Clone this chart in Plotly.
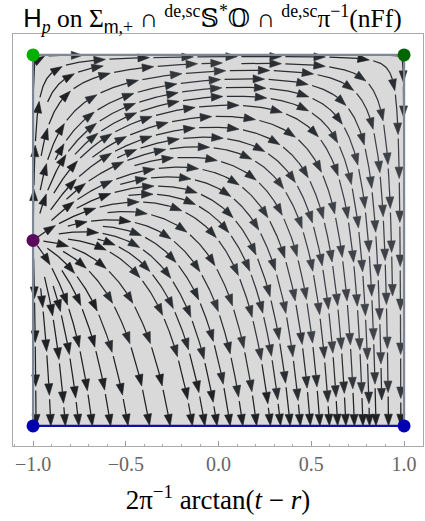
import numpy as np
import plotly.graph_objects as go

# ---------------- data ----------------
X_TICK_VALS = [-1.0, -0.5, 0.0, 0.5, 1.0]
X_TICK_TEXT = ["−1.0", "−0.5", "0.0", "0.5", "1.0"]
X_MINOR_STEP = 0.1
BOX_X = [-1.0, 1.0]
BOX_Y = [-1.0, 1.0]
POINT_X = [-1.0, 1.0, -1.0, -1.0, 1.0]
POINT_Y = [1.0, 1.0, 0.0, -1.0, -1.0]
POINT_COLORS = ["#00b000", "#006600", "#5a0a5a", "#0000b0", "#0000b0"]
EDGE_X = [-1.0, -1.0, 1.0, 1.0]      # left, top, right edges
EDGE_Y = [-1.0, 1.0, 1.0, -1.0]
BOTTOM_X = [-1.0, 1.0]
BOTTOM_Y = [-1.0, -1.0]
FIELD_C = 0.65
SEP = 0.068

NB_ = "\u00a0"
SANS = "font-family:Liberation Sans"
SERIF_STYLE = "font-family:Liberation Serif"
TITLE = (f'<span style="{SANS}">H</span><sub><i>p</i></sub>'
         f'<span style="{SERIF_STYLE}"> on Σ</span>'
         f'<sub><span style="{SANS}">m</span>,+</sub>'
         f'<span style="{SERIF_STYLE}"> ∩ </span>'
         '<sup>de,sc</sup>𝕊<sup>*</sup>𝕆 ∩ <sup>de,sc</sup>π<sup>−1</sup>(nFf)')
XLABEL = ('2π<sup>−1</sup>' + NB_ + 'arctan(<i>t</i>' + NB_ + '−' + NB_ + '<i>r</i>)')


def field(x, y):
    u = 0.5 * (1 - x * x) * (1 + y)
    v = (1 - y * y) * (y - FIELD_C * (1 + x) ** 2)
    return u, v


def unit_dir(x, y, sgn):
    u, v = field(x, y)
    n = (u * u + v * v) ** 0.5
    if n < 1e-8:
        return None
    return sgn * u / n, sgn * v / n


# ------------- evenly spaced streamlines -------------
CELL = SEP
grid = {}


def key(x, y):
    return (int((x + 1.5) // CELL), int((y + 1.5) // CELL))


def add_pt(x, y, lid):
    grid.setdefault(key(x, y), []).append((x, y, lid))


def near(x, y, dist, lid):
    i, j = key(x, y)
    d2 = dist * dist
    for di in (-1, 0, 1):
        for dj in (-1, 0, 1):
            for (px, py, pl) in grid.get((i + di, j + dj), ()):
                if pl != lid and (px - x) ** 2 + (py - y) ** 2 < d2:
                    return True
    return False


H = 0.004
XMIN, XMAX = BOX_X
YMIN, YMAX = BOX_Y
DTEST = 0.5 * SEP


def inside(x, y):
    return XMIN <= x <= XMAX and YMIN <= y <= YMAX


def trace(x0, y0, sgn, lid):
    pts = []
    x, y = x0, y0
    for _ in range(4000):
        d1 = unit_dir(x, y, sgn)
        if d1 is None:
            break
        d2 = unit_dir(x + 0.5 * H * d1[0], y + 0.5 * H * d1[1], sgn)
        if d2 is None or d1[0] * d2[0] + d1[1] * d2[1] < 0.5:
            break
        xn, yn = x + H * d2[0], y + H * d2[1]
        if not inside(xn, yn):
            t = 1.0
            if xn < XMIN: t = min(t, (XMIN - x) / (xn - x))
            if xn > XMAX: t = min(t, (XMAX - x) / (xn - x))
            if yn < YMIN: t = min(t, (YMIN - y) / (yn - y))
            if yn > YMAX: t = min(t, (YMAX - y) / (yn - y))
            pts.append((x + t * (xn - x), y + t * (yn - y)))
            break
        if near(xn, yn, DTEST, lid):
            break
        pts.append((xn, yn))
        x, y = xn, yn
    return pts


lines = []


def try_seed(sx, sy, queue):
    if not inside(sx, sy) or near(sx, sy, SEP * 0.98, -1):
        return
    lid = len(lines)
    fwd = trace(sx, sy, 1, lid)
    bwd = trace(sx, sy, -1, lid)
    line = bwd[::-1] + [(sx, sy)] + fwd
    arr = np.array(line)
    if len(arr) < 2:
        return
    length = np.hypot(np.diff(arr[:, 0]), np.diff(arr[:, 1])).sum()
    if length < 0.08:
        return
    for (x, y) in line:
        add_pt(x, y, lid)
    lines.append(arr)
    for k in range(0, len(line), 4):
        x, y = line[k]
        d = unit_dir(x, y, 1)
        if d is None:
            continue
        nx, ny = -d[1], d[0]
        queue.append((x + SEP * nx, y + SEP * ny))
        queue.append((x - SEP * nx, y - SEP * ny))


def run_queue(queue):
    while queue:
        sx, sy = queue.pop(0)
        try_seed(sx, sy, queue)


q = [(0.0, 0.0)]
run_queue(q)
for gx in np.arange(-0.98, 0.99, SEP / 2):
    for gy in np.arange(-0.98, 0.99, SEP / 2):
        q = [(float(gx), float(gy))]
        run_queue(q)

# ------------- segment streamlines and build arrowheads -------------
S = 185.5            # px per data unit
SEG = 40 / S
GAP = 4 / S
AL = 11.5 / S
AW = 4.0 / S
NB = 4
GOLD = 0.6180339887
shades = ["#1f2124", "#2a2d31", "#34373c", "#3e4147"]
seg_x = [[] for _ in range(NB)]
seg_y = [[] for _ in range(NB)]
arr_x = [[] for _ in range(NB)]
arr_y = [[] for _ in range(NB)]


def point_at(arr, s, sv):
    return np.interp(s, sv, arr[:, 0]), np.interp(s, sv, arr[:, 1])


for li, arr in enumerate(lines):
    sv = np.concatenate([[0], np.cumsum(np.hypot(np.diff(arr[:, 0]), np.diff(arr[:, 1])))])
    L = sv[-1]
    e = L
    first = True
    while e > 0:
        seglen = SEG * (0.45 + 0.55 * ((li * GOLD) % 1.0)) if first else SEG
        first = False
        st = max(0.0, e - seglen)
        if e - st < 1.5 * AL:
            break
        tx, ty = point_at(arr, e, sv)
        bx, by = point_at(arr, e - AL, sv)
        dx, dy = tx - bx, ty - by
        dn = np.hypot(dx, dy)
        if dn < 1e-9:
            break
        dx, dy = dx / dn, dy / dn
        bx, by = tx - AL * dx, ty - AL * dy
        u, v = field(tx, ty)
        spd = np.hypot(u, v)
        b = int(min(NB - 1, spd / 1.8 * NB))
        inner = (sv > st) & (sv < e - AL)
        sx0, sy0 = point_at(arr, st, sv)
        xs = [sx0] + list(arr[inner, 0]) + [bx]
        ys = [sy0] + list(arr[inner, 1]) + [by]
        seg_x[b] += xs + [None]
        seg_y[b] += ys + [None]
        nx, ny = -dy, dx
        arr_x[b] += [tx, bx + AW * nx, bx - AW * nx, tx, None]
        arr_y[b] += [ty, by + AW * ny, by - AW * ny, ty, None]
        e = st - GAP

fig = go.Figure()
fig.add_shape(type="rect", x0=BOX_X[0], x1=BOX_X[1], y0=BOX_Y[0], y1=BOX_Y[1],
              fillcolor="#d9d9d9", line_width=0, layer="below")
for b in range(NB):
    fig.add_trace(go.Scatter(x=seg_x[b], y=seg_y[b], mode="lines",
                             line=dict(color=shades[b], width=1.25), hoverinfo="skip"))
    fig.add_trace(go.Scatter(x=arr_x[b], y=arr_y[b], mode="lines", fill="toself",
                             fillcolor=shades[b], line=dict(color=shades[b], width=0.6),
                             hoverinfo="skip"))
fig.add_trace(go.Scatter(x=EDGE_X, y=EDGE_Y, mode="lines",
                         line=dict(color="#7e8794", width=2.2), hoverinfo="skip"))
fig.add_trace(go.Scatter(x=BOTTOM_X, y=BOTTOM_Y, mode="lines",
                         line=dict(color="#1010a8", width=2.2), hoverinfo="skip"))
fig.add_trace(go.Scatter(x=POINT_X, y=POINT_Y, mode="markers", cliponaxis=False,
                         marker=dict(color=POINT_COLORS, size=13, line_width=0),
                         hoverinfo="skip"))

serif = "Liberation Serif, DejaVu Serif, serif"
fig.update_layout(
    width=425, height=521, margin=dict(l=13, r=2, t=34, b=75),
    paper_bgcolor="white", plot_bgcolor="white", showlegend=False,
    title=dict(text=TITLE, x=0.5, xanchor="center", y=1 - 18.5 / 521, yanchor="middle",
               yref="container", font=dict(family=serif, size=25.5, color="black")),
    xaxis=dict(range=[-1.108, 1.102], tickvals=X_TICK_VALS, ticktext=X_TICK_TEXT,
               ticks="inside", ticklen=5, tickwidth=1, tickcolor="#999999",
               showline=True, linecolor="#aaaaaa", linewidth=1, mirror=True,
               showgrid=False, zeroline=False, automargin=False,
               tickfont=dict(family=serif, size=20, color="#666666"),
               minor=dict(dtick=X_MINOR_STEP, tick0=-1, ticklen=2.5, ticks="inside",
                          tickcolor="#aaaaaa", showgrid=False),
               title=dict(text=XLABEL, standoff=16, font=dict(family=serif, size=27, color="black"))),
    yaxis=dict(range=[-1.108, 1.113], showticklabels=False, ticks="",
               showline=True, linecolor="#aaaaaa", linewidth=1, mirror=True,
               showgrid=False, zeroline=False, automargin=False),
)
fig.write_html("out.html", config={"displayModeBar": False},
               post_script="document.body.style.margin='0px';document.body.style.overflow='hidden';")
